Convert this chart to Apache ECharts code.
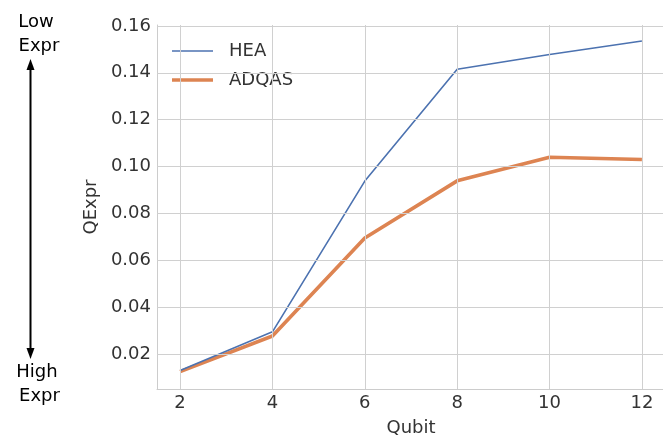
<!DOCTYPE html>
<html><head><meta charset="utf-8">
<script src="https://cdn.jsdelivr.net/npm/echarts@6/dist/echarts.min.js"></script>
<style>html,body{margin:0;padding:0;background:#fff}#c{width:663px;height:435px}</style>
</head><body><div id="c"></div>
<script>
const qubits = [2, 4, 6, 8, 10, 12];
const hea = [0.0130, 0.0295, 0.0938, 0.1415, 0.1478, 0.1536];
const adqas = [0.0125, 0.0277, 0.0695, 0.0939, 0.1040, 0.1030];
const yTicks = [0.02, 0.04, 0.06, 0.08, 0.10, 0.12, 0.14, 0.16];

const chart = echarts.init(document.getElementById('c'));
const font = 'DejaVu Sans';
const txt = (s, x, y) => ({type: 'text', x: x, y: y,
  style: {text: s, fontSize: 18, fontFamily: font, fill: '#000', align: 'center', verticalAlign: 'middle'}});
chart.setOption({
  animation: false,
  textStyle: {fontFamily: font},
  grid: {left: 157, right: -2, top: 25, bottom: 46, containLabel: false, outerBoundsMode: 'none'},
  xAxis: {
    type: 'value', min: 1.5, max: 12.5, interval: 2,
    name: 'Qubit', nameLocation: 'middle', nameGap: 30,
    nameTextStyle: {fontSize: 18, color: '#333', fontFamily: font},
    axisLine: {show: true, lineStyle: {color: '#cccccc', width: 1}},
    axisTick: {show: false},
    axisLabel: {fontSize: 18, color: '#333', margin: 5, fontFamily: font,
      customValues: qubits, formatter: v => String(v)},
    splitLine: {show: false}
  },
  yAxis: {
    type: 'value', min: 0.0051, max: 0.1604,
    name: 'QExpr', nameLocation: 'middle', nameGap: 48, nameRotate: 90,
    nameTextStyle: {fontSize: 18, color: '#333', fontFamily: font},
    axisLine: {show: true, lineStyle: {color: '#cccccc', width: 1}},
    axisTick: {show: false},
    axisLabel: {fontSize: 18, color: '#333', margin: 6, fontFamily: font,
      customValues: yTicks, formatter: v => v.toFixed(2)},
    splitLine: {show: false}
  },
  series: [
    {type: 'line', name: 'gridx', data: [], silent: true,
     markLine: {silent: true, symbol: 'none', label: {show: false},
       lineStyle: {color: '#d0d0d0', width: 1, type: 'solid'},
       data: qubits.map(q => ({xAxis: q})).concat(yTicks.map(t => ({yAxis: t})))}},
    {type: 'line', name: 'HEA', data: qubits.map((q, i) => [q, hea[i]]),
     symbol: 'none', showSymbol: false, lineStyle: {color: '#4c72b0', width: 1.6}, itemStyle: {color: '#4c72b0'}, z: 3},
    {type: 'line', name: 'ADQAS', data: qubits.map((q, i) => [q, adqas[i]]),
     symbol: 'none', showSymbol: false, lineStyle: {color: '#dd8452', width: 3.6}, itemStyle: {color: '#dd8452'}, z: 2}
  ],
  legend: {
    data: [
      {name: 'HEA', icon: 'path://M0,0L40,0L40,1.6L0,1.6Z'},
      {name: 'ADQAS', icon: 'path://M0,0L40,0L40,3.6L0,3.6Z'}
    ],
    orient: 'vertical', left: 172, top: 42, padding: 0,
    itemWidth: 41, itemHeight: 18, itemGap: 11, symbolKeepAspect: true,
    textStyle: {fontSize: 18, color: '#333', fontFamily: font, padding: [0, 0, 0, 11]}
  },
  graphic: [
    txt('Low', 36, 22), txt('Expr', 39, 46), txt('High', 37, 372), txt('Expr', 39.5, 396),
    {type: 'line', shape: {x1: 30.5, y1: 68, x2: 30.5, y2: 350}, style: {stroke: '#000', lineWidth: 2}},
    {type: 'polygon', shape: {points: [[30.5, 59], [26.5, 70], [34.5, 70]]}, style: {fill: '#000'}},
    {type: 'polygon', shape: {points: [[30.5, 359], [26.5, 348], [34.5, 348]]}, style: {fill: '#000'}}
  ]
});
</script></body></html>
